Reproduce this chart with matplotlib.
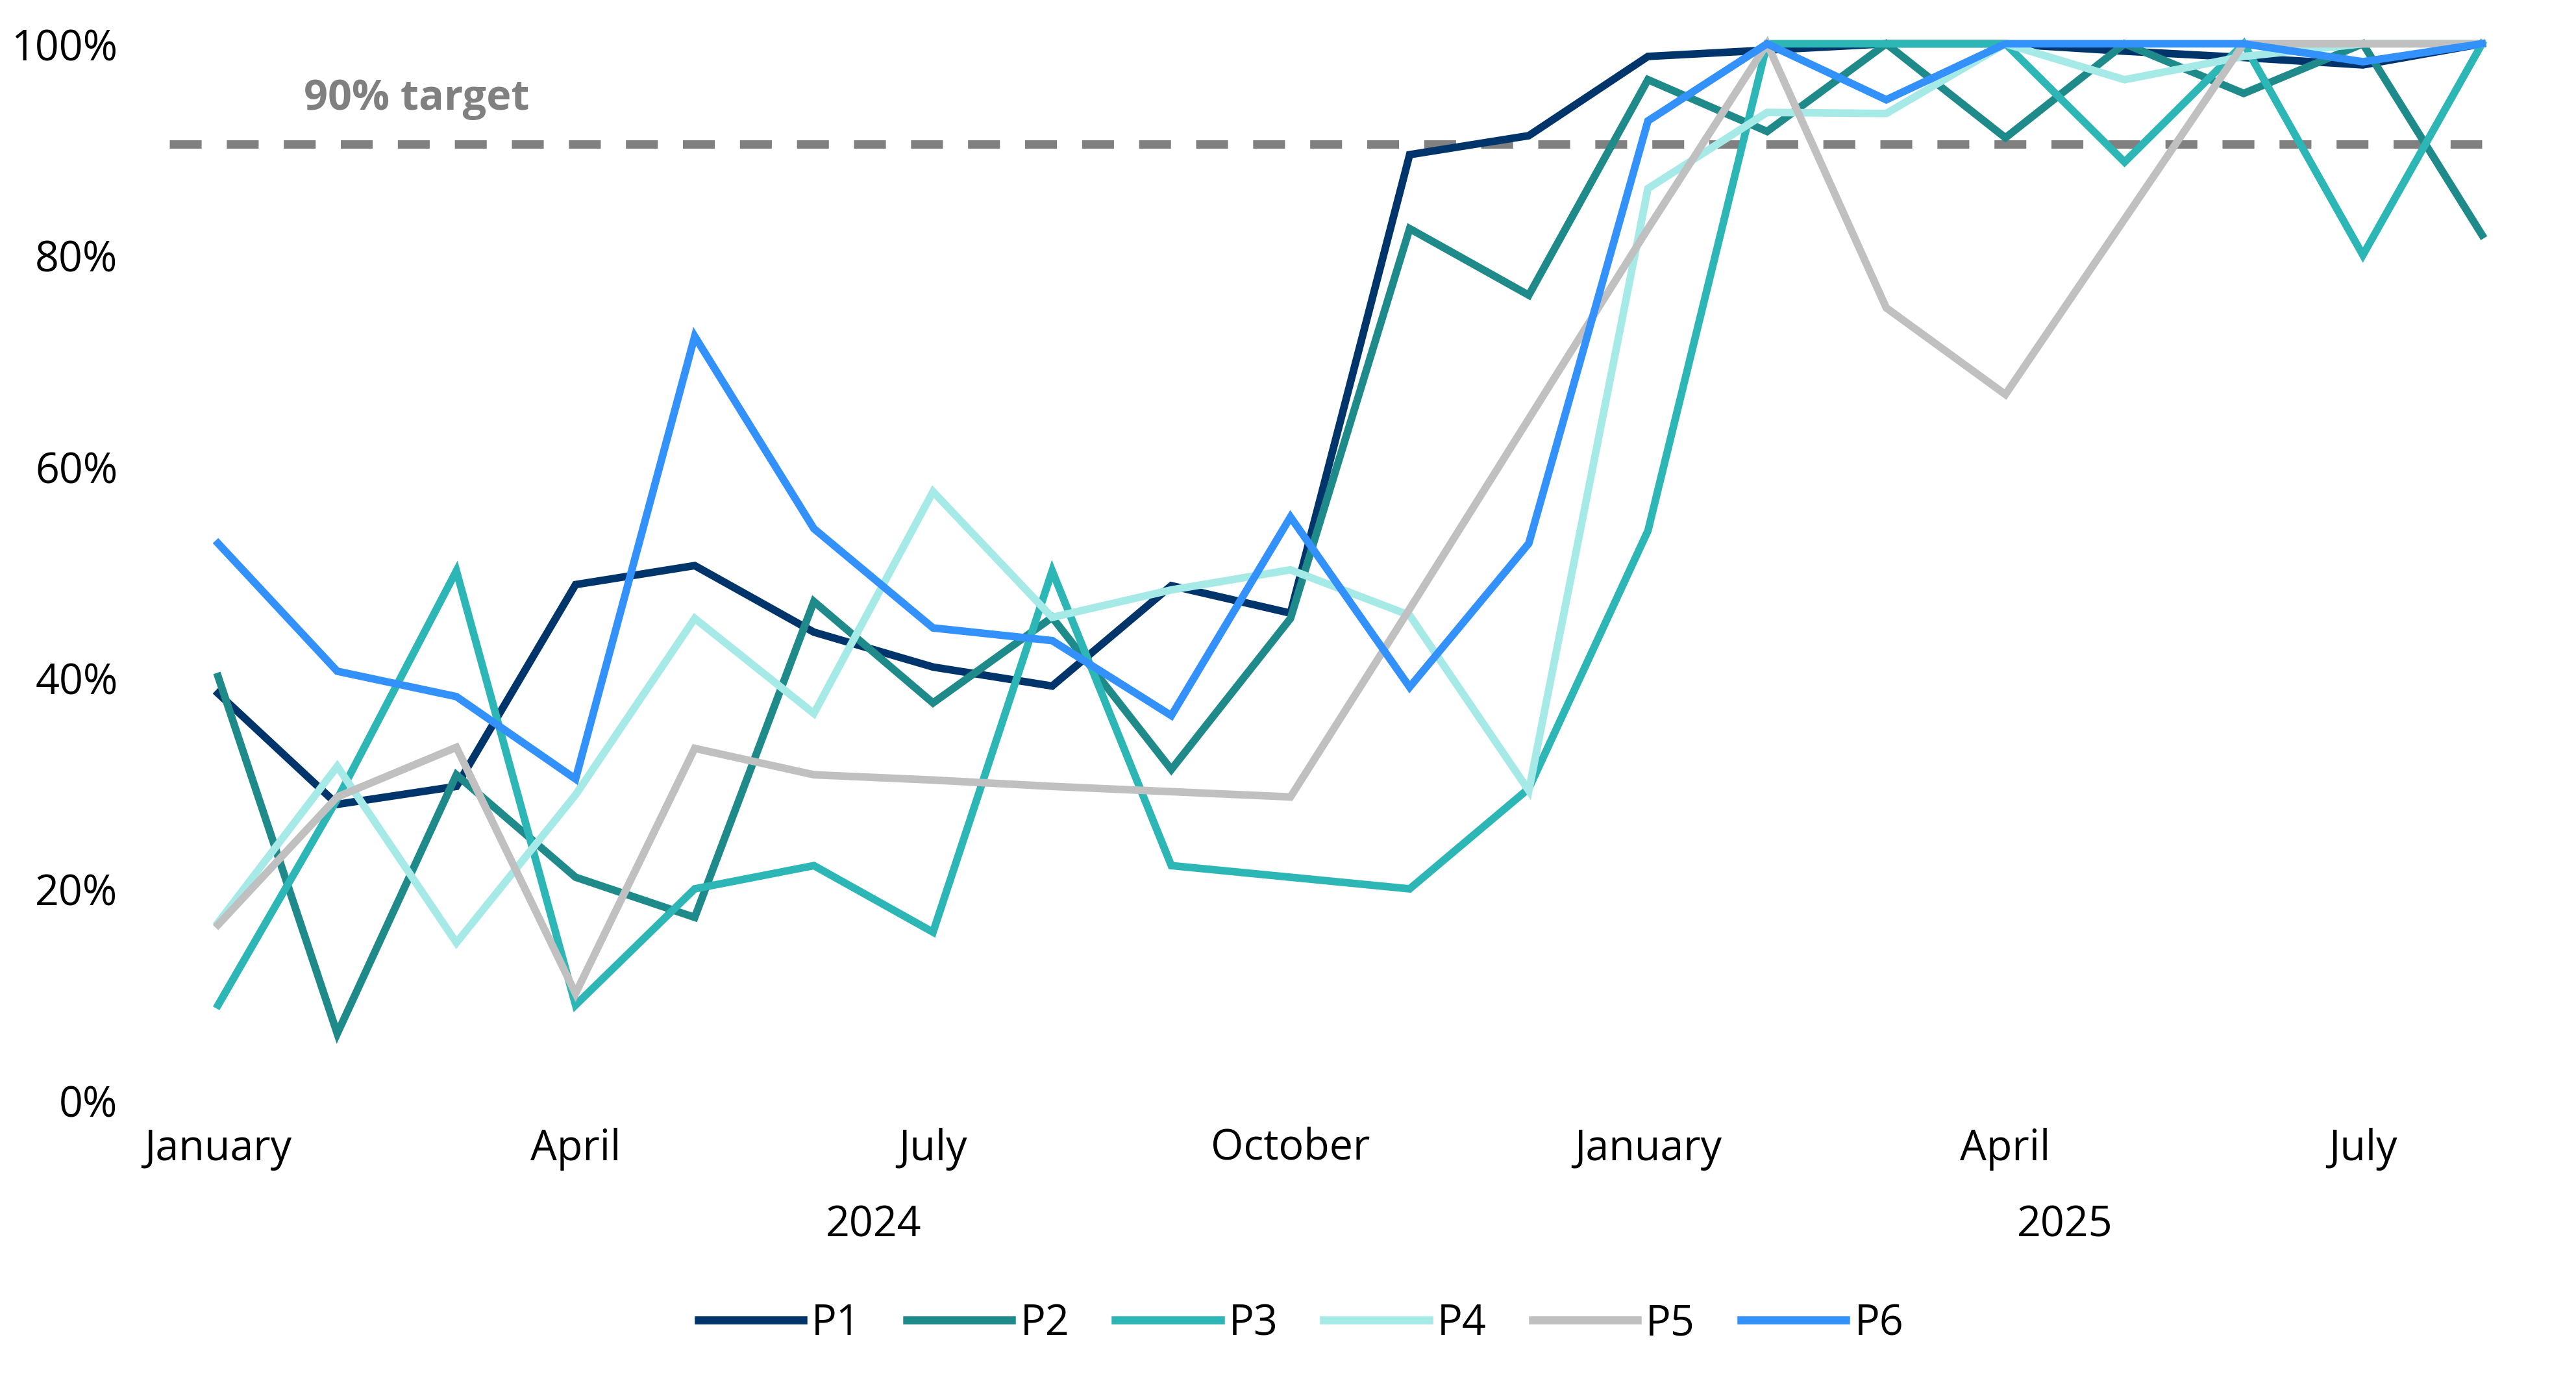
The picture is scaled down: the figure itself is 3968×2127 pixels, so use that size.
import matplotlib.pyplot as plt
from matplotlib.transforms import blended_transform_factory

plt.rcParams['font.family'] = ['Open Sans', 'DejaVu Sans']

# Jan 2024 .. Aug 2025, monthly share (%)
months = ['January', 'February', 'March', 'April', 'May', 'June', 'July', 'August',
          'September', 'October', 'November', 'December',
          'January', 'February', 'March', 'April', 'May', 'June', 'July', 'August']
years = ['2024', '2025']
year_counts = [12, 8]

p1 = [38.5, 28.0, 29.7, 48.8, 50.6, 44.3, 41.0, 39.2, 48.7, 46.1,
      89.5, 91.3, 98.8, 99.4, 100, 100, 99.3, 98.7, 98.0, 100]
p2 = [40.1, 6.3, 30.8, 21.1, 17.3, 47.2, 37.6, 45.7, 31.3, 45.6,
      82.5, 76.2, 96.6, 91.7, 100, 91.1, 100, 95.3, 100, 81.9]
p3 = [9.0, 28.5, 50.1, 9.0, 20.0, 22.2, 15.9, 50.1, 22.2, 21.1,
      20.0, 29.5, 53.9, 100, 100, 100, 88.8, 100, 80.0, 100]
p4 = [16.8, 31.6, 14.9, 28.9, 45.6, 36.6, 57.6, 45.7, 48.3, 50.2,
      45.9, 29.3, 86.3, 93.5, 93.4, 100, 96.6, 98.8, 100, 100]
p5 = [16.6, 28.7, 33.4, 10.1, 33.3, 30.8, 30.3, 29.7, 29.2, 28.7,
      46.5, 64.5, 82.5, 100, 75.0, 66.8, 83.4, 100, 100, 100]
p6 = [52.7, 40.6, 38.2, 30.4, 72.3, 54.1, 44.7, 43.5, 36.4, 55.2,
      39.1, 52.7, 92.7, 100, 94.7, 100, 100, 100, 98.3, 100]

series = [p1, p2, p3, p4, p5, p6]
names = ['P1', 'P2', 'P3', 'P4', 'P5', 'P6']
colors = ['#00356B', '#1F8A8A', '#2CB6B6', '#A6EAE8', '#C0C0C0', '#3391FC']

target = 90.5
target_label = '90% target'

fs = 15.5
fig = plt.figure(figsize=(13.227, 7.093), dpi=300)
ax = fig.add_axes([0.0657, 0.2033, 0.9163, 0.7646])

x = list(range(len(months)))

ax.plot([-0.41, len(months) - 1], [target, target], color='#808080', lw=3.1,
        dashes=(3.8, 3.0), solid_capstyle='butt', dash_capstyle='butt', zorder=1)
ax.text(0.72, 94.8, target_label, color='#808080', fontsize=fs, fontweight='bold',
        va='center', ha='left')

lines = []
for vals, name, c in zip(series, names, colors):
    ln, = ax.plot(x, vals, color=c, lw=2.8, label=name, clip_on=False,
                  solid_joinstyle='miter', zorder=2)
    lines.append(ln)

ax.set_xlim(-0.41, 19.4)
ax.set_ylim(0, 100)
ax.set_yticks([0, 20, 40, 60, 80, 100])
ax.set_yticklabels([f'{v}%' for v in [0, 20, 40, 60, 80, 100]])
tick_pos = x[::3]
ax.set_xticks(tick_pos)
ax.set_xticklabels([months[i] for i in tick_pos])
ax.tick_params(axis='both', length=0, labelsize=fs)
ax.tick_params(axis='y', pad=19)
ax.tick_params(axis='x', pad=10)
for s in ax.spines.values():
    s.set_visible(False)

# year labels centred under their months
trans = blended_transform_factory(ax.transData, ax.transAxes)
start = 0
for yr, n in zip(years, year_counts):
    ax.text(start + (n - 1) / 2, -0.118, yr, transform=trans, ha='center',
            va='center', fontsize=fs)
    start += n

leg = fig.legend(handles=lines, loc='center', bbox_to_anchor=(0.505, 0.0416), ncol=6,
                 frameon=False, fontsize=fs, handlelength=2.5, handletextpad=0.2,
                 columnspacing=1.1)
for h in leg.legend_handles:
    h.set_linewidth(3.0)

fig.savefig('out.png', dpi=300)
